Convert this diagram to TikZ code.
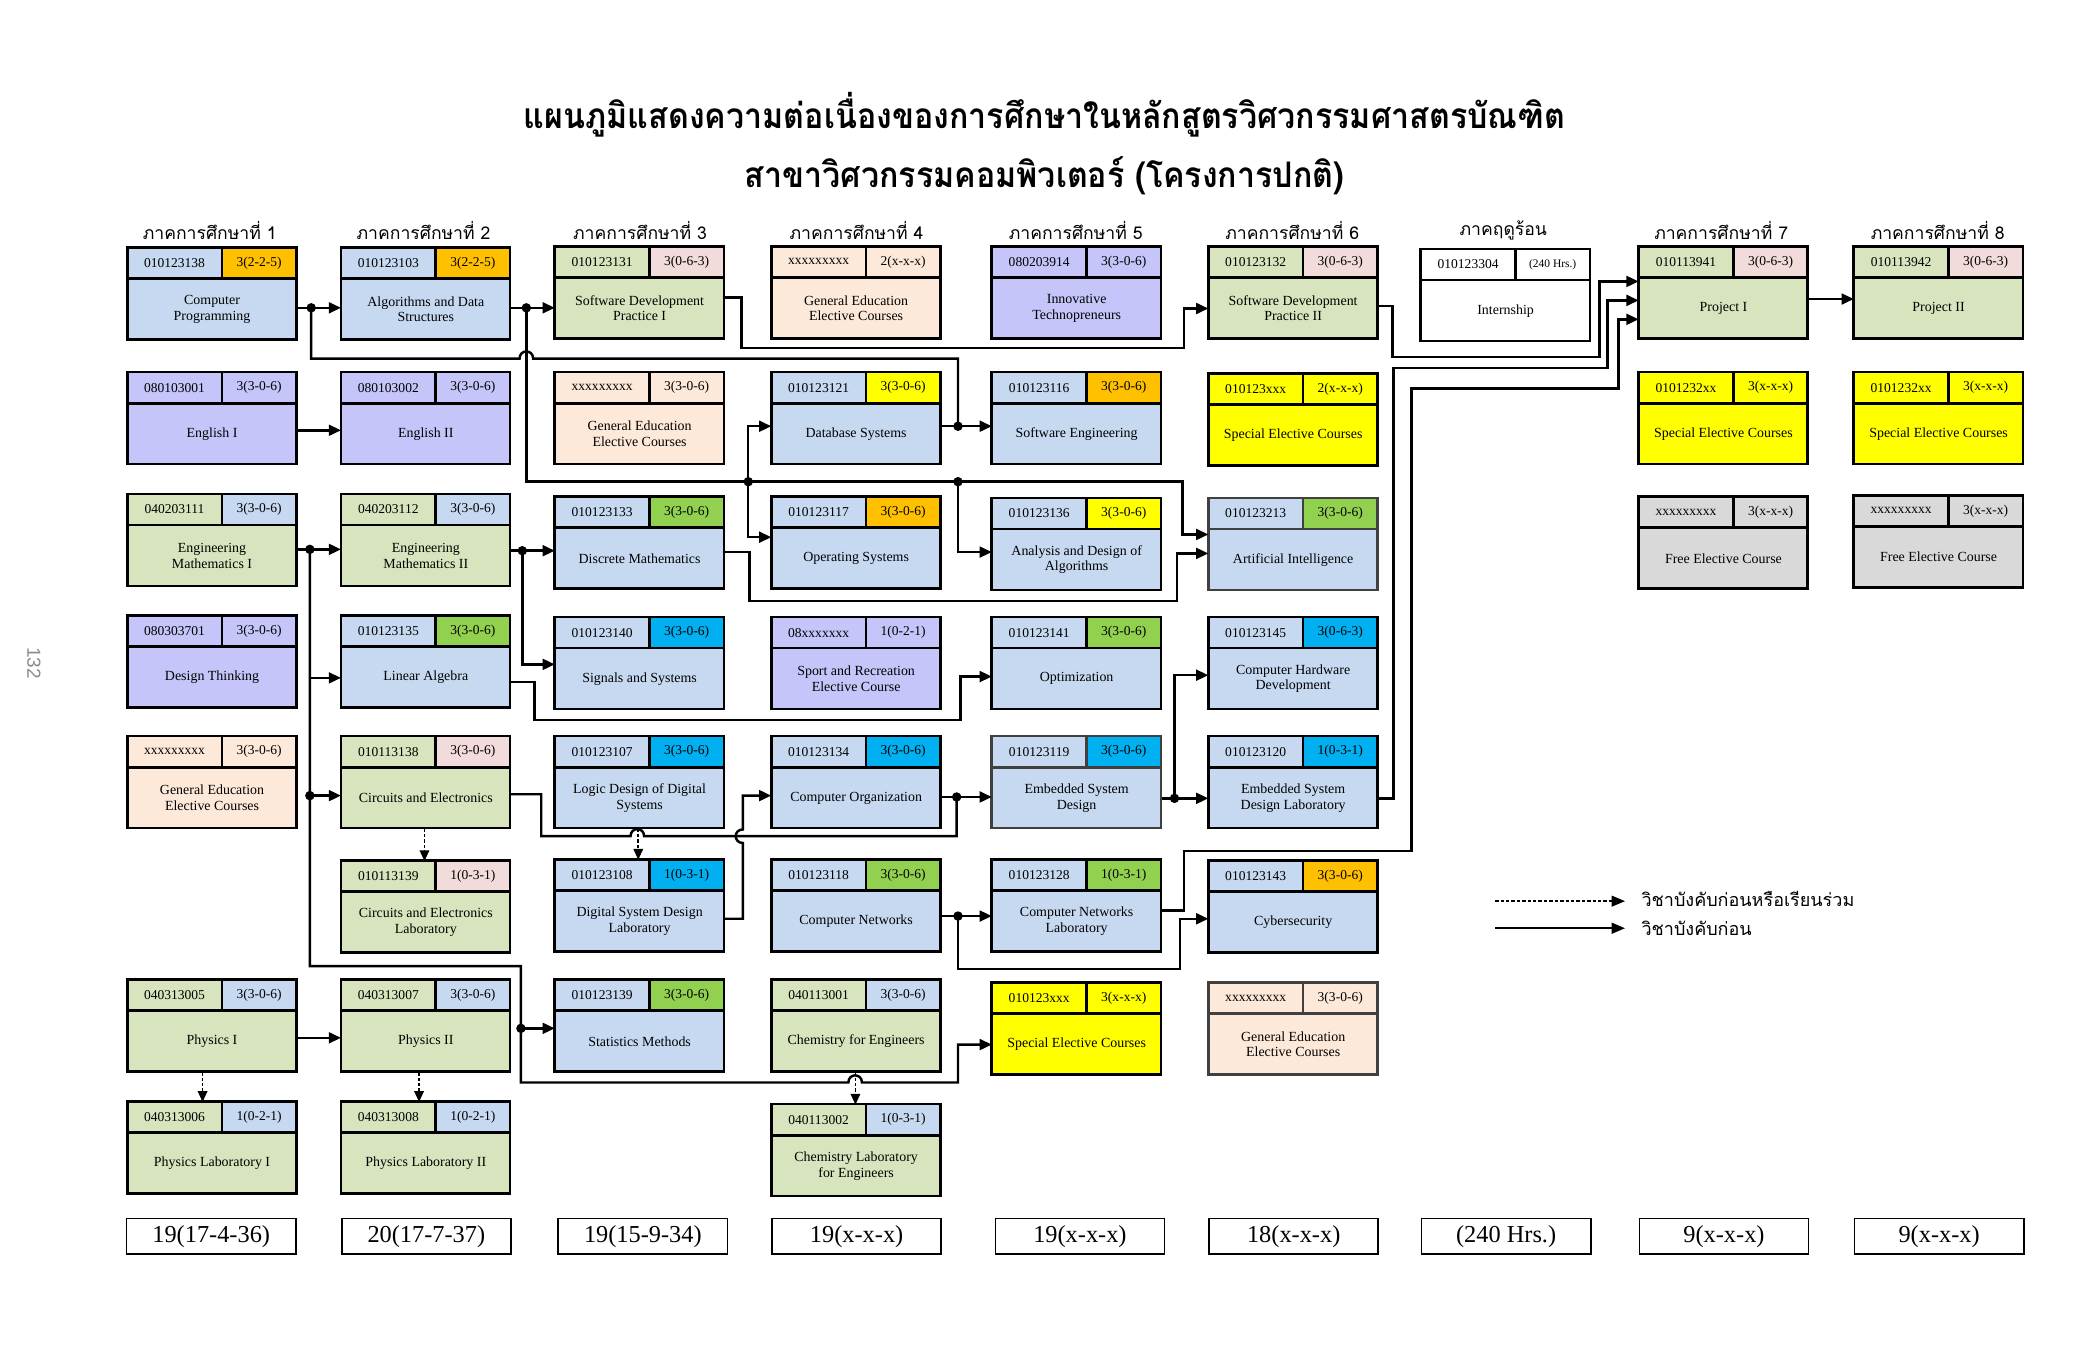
\documentclass[tikz,border=0pt]{standalone}
\usepackage{fontspec}
\setmainfont{Liberation Serif}
\setsansfont{Liberation Sans}
\newfontfamily\thaifont[Script=Thai]{Loma}
\usetikzlibrary{arrows.meta}
\definecolor{cblue}{HTML}{C6D9F1}
\definecolor{cgreen}{HTML}{D7E4BD}
\definecolor{clav}{HTML}{C5C5FA}
\definecolor{cpeach}{HTML}{FDE9D9}
\definecolor{cpink}{HTML}{F2DCDB}
\definecolor{corange}{HTML}{FFC000}
\definecolor{cyellow}{HTML}{FFFF00}
\definecolor{cbgreen}{HTML}{92D050}
\definecolor{ccyan}{HTML}{00B0F0}
\definecolor{cgray}{HTML}{D9D9D9}
\definecolor{dgray}{HTML}{404040}
\tikzset{
  boxline/.style={line width=2pt},
  wire/.style={line width=1.8pt},
  conn/.style={wire, -{Triangle[length=9pt,width=8pt]}},
  dconn/.style={line width=1.3pt, dash pattern=on 2.5pt off 1.5pt, -{Triangle[length=8pt,width=7pt]}},
  jdot/.style={circle, fill=black, inner sep=0pt, minimum size=7pt},
  idtxt/.style={font=\fontsize{10}{11}\selectfont, inner sep=0pt},
  bodytxt/.style={font=\fontsize{10.3}{11.5}\selectfont, align=center, inner sep=0pt,
    minimum width=125pt, minimum height=45pt, anchor=north west},
  credbox/.style={draw, line width=1.2pt, minimum width=125pt, minimum height=26pt,
    font=\fontsize{18}{20}\selectfont, inner sep=0pt, anchor=north west},
  sem/.style={font=\thaifont\fontsize{13}{15}\selectfont, inner sep=0pt},
  legtxt/.style={font=\thaifont\fontsize{13.3}{15}\selectfont, inner sep=0pt, anchor=west},
  ttl/.style={font=\thaifont\bfseries\fontsize{26}{30}\selectfont, inner sep=0pt},
}
% #1 border, #2 name, #3 x, #4 y, #5 id, #6 credit, #7 fill, #8 credit fill, #9 body
\newcommand\course[9]{%
  \fill[#7] (#3,#4) rectangle ++(125,68);
  \fill[#8] (#3+70,#4) rectangle ++(55,23);
  \draw[boxline,draw=#1] (#3,#4) rectangle ++(125,68) (#3,#4+23) -- ++(125,0) (#3+70,#4) -- ++(0,23);
  \node[idtxt] (#2id) at (#3+35,#4+11.5) {#5};
  \node[idtxt] (#2cr) at (#3+97.5,#4+11.5) {#6};
  \node[bodytxt] (#2) at (#3,#4+23) {#9};
}
\begin{document}
\begin{tikzpicture}[x=1pt,y=-1pt]
\useasboundingbox (0,0) rectangle (1552,1000);
\fill[white] (0,0) rectangle (1552,1000);

% titles
\node[ttl] (t1) at (772,85) {\scalebox{0.915}[1]{แผนภูมิแสดงความต่อเนื่องของการศึกษาในหลักสูตรวิศวกรรมศาสตรบัณฑิต}};
\node[ttl] (t2) at (772,130) {\scalebox{0.915}[1]{สาขาวิศวกรรมคอมพิวเตอร์ (โครงการปกติ)}};
\node[rotate=-90, text=black!45, font=\sffamily\fontsize{14}{14}\selectfont] (pg) at (25,490) {132};

% semester headings
\node[sem] (s1h) at (155,170) {ภาคการศึกษาที่ 1};
\node[sem] (s2h) at (313,170) {ภาคการศึกษาที่ 2};
\node[sem] (s3h) at (473,170) {ภาคการศึกษาที่ 3};
\node[sem] (s4h) at (633,170) {ภาคการศึกษาที่ 4};
\node[sem] (s5h) at (795,170) {ภาคการศึกษาที่ 5};
\node[sem] (s6h) at (955,170) {ภาคการศึกษาที่ 6};
\node[sem] (s7h) at (1111,170) {ภาคฤดูร้อน};
\node[sem] (s8h) at (1272,170) {ภาคการศึกษาที่ 7};
\node[sem] (s9h) at (1432,170) {ภาคการศึกษาที่ 8};

% column 1
\course{black}{a1}{94}{183}{010123138}{3(2-2-5)}{cblue}{corange}{Computer\\Programming}
\course{black}{b1}{94}{275}{080103001}{3(3-0-6)}{clav}{clav}{English I}
\course{black}{c1}{94}{365}{040203111}{3(3-0-6)}{cgreen}{cblue}{Engineering\\Mathematics I}
\course{black}{d1}{94}{455}{080303701}{3(3-0-6)}{clav}{clav}{Design Thinking}
\course{black}{e1}{94}{544}{xxxxxxxxx}{3(3-0-6)}{cpeach}{cpeach}{General Education\\Elective Courses}
\course{black}{g1}{94}{724}{040313005}{3(3-0-6)}{cgreen}{cblue}{Physics I}
\course{black}{h1}{94}{814}{040313006}{1(0-2-1)}{cgreen}{cblue}{Physics Laboratory I}
% column 2
\course{black}{a2}{252}{183}{010123103}{3(2-2-5)}{cblue}{corange}{Algorithms and Data\\Structures}
\course{black}{b2}{252}{275}{080103002}{3(3-0-6)}{clav}{clav}{English II}
\course{black}{c2}{252}{365}{040203112}{3(3-0-6)}{cgreen}{cblue}{Engineering\\Mathematics II}
\course{black}{d2}{252}{455}{010123135}{3(3-0-6)}{cblue}{cbgreen}{Linear Algebra}
\course{black}{e2}{252}{544}{010113138}{3(3-0-6)}{cgreen}{cpink}{Circuits and Electronics}
\course{black}{f2}{252}{636}{010113139}{1(0-3-1)}{cgreen}{cpink}{Circuits and Electronics\\Laboratory}
\course{black}{g2}{252}{724}{040313007}{3(3-0-6)}{cgreen}{cblue}{Physics II}
\course{black}{h2}{252}{814}{040313008}{1(0-2-1)}{cgreen}{cblue}{Physics Laboratory II}
% column 3
\course{black}{a3}{410}{182}{010123131}{3(0-6-3)}{cgreen}{cpink}{Software Development\\Practice I}
\course{black}{b3}{410}{275}{xxxxxxxxx}{3(3-0-6)}{cpeach}{cpeach}{General Education\\Elective Courses}
\course{black}{c3}{410}{367}{010123133}{3(3-0-6)}{cblue}{cbgreen}{Discrete Mathematics}
\course{black}{d3}{410}{456}{010123140}{3(3-0-6)}{cblue}{ccyan}{Signals and Systems}
\course{black}{e3}{410}{544}{010123107}{3(3-0-6)}{cblue}{ccyan}{Logic Design of Digital\\Systems}
\course{black}{f3}{410}{635}{010123108}{1(0-3-1)}{cblue}{ccyan}{Digital System Design\\Laboratory}
\course{black}{g3}{410}{724}{010123139}{3(3-0-6)}{cblue}{cbgreen}{Statistics Methods}
% column 4
\course{black}{a4}{570}{182}{xxxxxxxxx}{2(x-x-x)}{cpeach}{cpeach}{General Education\\Elective Courses}
\course{black}{b4}{570}{275}{010123121}{3(3-0-6)}{cblue}{cyellow}{Database Systems}
\course{black}{c4}{570}{367}{010123117}{3(3-0-6)}{cblue}{corange}{Operating Systems}
\course{black}{d4}{570}{456}{08xxxxxxx}{1(0-2-1)}{clav}{clav}{Sport and Recreation\\Elective Course}
\course{black}{e4}{570}{544}{010123134}{3(3-0-6)}{cblue}{ccyan}{Computer Organization}
\course{black}{f4}{570}{635}{010123118}{3(3-0-6)}{cblue}{cbgreen}{Computer Networks}
\course{black}{g4}{570}{724}{040113001}{3(3-0-6)}{cgreen}{cblue}{Chemistry for Engineers}
\course{black}{h4}{570}{816}{040113002}{1(0-3-1)}{cgreen}{cblue}{Chemistry Laboratory\\for Engineers}
% column 5
\course{black}{a5}{733}{182}{080203914}{3(3-0-6)}{clav}{clav}{Innovative\\Technopreneurs}
\course{black}{b5}{733}{275}{010123116}{3(3-0-6)}{cblue}{corange}{Software Engineering}
\course{black}{c5}{733}{368}{010123136}{3(3-0-6)}{cblue}{cyellow}{Analysis and Design of\\Algorithms}
\course{black}{d5}{733}{456}{010123141}{3(3-0-6)}{cblue}{cbgreen}{Optimization}
\course{dgray}{e5}{733}{544}{010123119}{3(3-0-6)}{cblue}{ccyan}{Embedded System\\Design}
\course{black}{f5}{733}{635}{010123128}{1(0-3-1)}{cblue}{cbgreen}{Computer Networks\\Laboratory}
\course{black}{g5}{733}{726}{010123xxx}{3(x-x-x)}{cyellow}{cyellow}{Special Elective Courses}
% column 6
\course{black}{a6}{893}{182}{010123132}{3(0-6-3)}{cgreen}{cpink}{Software Development\\Practice II}
\course{black}{b6}{893}{276}{010123xxx}{2(x-x-x)}{cyellow}{cyellow}{Special Elective Courses}
\course{dgray}{c6}{893}{368}{010123213}{3(3-0-6)}{cblue}{cbgreen}{Artificial Intelligence}
\course{black}{d6}{893}{456}{010123145}{3(0-6-3)}{cblue}{ccyan}{Computer Hardware\\Development}
\course{black}{e6}{893}{544}{010123120}{1(0-3-1)}{cblue}{ccyan}{Embedded System\\Design Laboratory}
\course{black}{f6}{893}{636}{010123143}{3(3-0-6)}{cblue}{corange}{Cybersecurity}
\course{dgray}{g6}{893}{726}{xxxxxxxxx}{3(3-0-6)}{cpeach}{cpeach}{General Education\\Elective Courses}
% summer
\course{black}{a7}{1050}{184}{010123304}{{\fontsize{8.5}{9}\selectfont(240 Hrs.)}}{white}{white}{Internship}
% column 8
\course{black}{a8}{1211}{182}{010113941}{3(0-6-3)}{cgreen}{cpink}{Project I}
\course{black}{b8}{1211}{275}{0101232xx}{3(x-x-x)}{cyellow}{cyellow}{Special Elective Courses}
\course{black}{c8}{1211}{367}{xxxxxxxxx}{3(x-x-x)}{cgray}{cgray}{Free Elective Course}
% column 9
\course{black}{a9}{1370}{182}{010113942}{3(0-6-3)}{cgreen}{cpink}{Project II}
\course{black}{b9}{1370}{275}{0101232xx}{3(x-x-x)}{cyellow}{cyellow}{Special Elective Courses}
\course{black}{c9}{1370}{366}{xxxxxxxxx}{3(x-x-x)}{cgray}{cgray}{Free Elective Course}

% junction dots
\node[jdot] (j1) at (230,227.5) {};
\node[jdot] (j2) at (389,227.5) {};
\node[jdot] (j3) at (708,315) {};
\node[jdot] (j4) at (553,356) {};
\node[jdot] (j5) at (708,356) {};
\node[jdot] (j6) at (229,406) {};
\node[jdot] (j7) at (229,588) {};
\node[jdot] (j8) at (385,760) {};
\node[jdot] (j9) at (386,407) {};
\node[jdot] (j10) at (707,589) {};
\node[jdot] (j11) at (868,590) {};
\node[jdot] (j12) at (708,677) {};

% row A
\draw[conn] (a1.east |- j1) -- (a2.west |- j1);
\draw[conn] (a2.east |- j2) -- (a3.west |- j2);
\draw[wire] (j1.center) -- (230,265) -- (384,265) .. controls (384,258) and (394,258) .. (394,265) -- (708,265) -- (j3.center);
\draw[wire] (j2.center) -- (389,356) -- (j5.center);
\draw[conn] (j5.center) -- (874,356) -- (874,395) -- (c6.west |- 0,395);
\draw[conn] (j4.center) -- (553,315) -- (b4.west |- j3);
\draw[conn] (j4.center) -- (553,397) -- (c4.west |- 0,397);
\draw[conn] (j5.center) -- (708,408) -- (c5.west |- 0,408);
\draw[conn] (b4.east |- j3) -- (b5.west |- j3);
\draw[conn] (a3.east |- 0,220) -- (548,220) -- (548,257) -- (875,257) -- (875,228) -- (a6.west |- 0,228);
% row B
\draw[conn] (b1.east |- 0,318) -- (b2.west |- 0,318);
% row C
\draw[conn] (c1.east |- j6) -- (c2.west |- j6);
\draw[conn] (j6.center) -- (229,714) -- (385,714) -- (385,800) -- (627,800) .. controls (627,793) and (637,793) .. (637,800) -- (708,800) -- (708,772) -- (g5.west |- 0,772);
\draw[conn] (j6 |- 0,501) -- (d2.west |- 0,501);
\draw[conn] (j7.center) -- (e2.west |- j7);
\draw[conn] (j8.center) -- (g3.west |- j8);
\draw[conn] (c2.east |- j9) -- (c3.west |- j9);
\draw[conn] (j9.center) -- (386,491) -- (d3.west |- 0,491);
\draw[conn] (c3.east |- 0,408) -- (554,408) -- (554,444) -- (870,444) -- (870,409) -- (c6.west |- 0,409);
% row D
\draw[conn] (d2.east |- 0,504) -- (395,504) -- (395,532) -- (710,532) -- (710,500) -- (d5.west |- 0,500);
% row E
\draw[conn] (e4.east |- j10) -- (e5.west |- j10);
\draw[wire] (e2.east |- 0,587) -- (400,587) -- (400,618) -- (466,618) .. controls (466,611) and (476,611) .. (476,618) -- (707,618) -- (j10.center);
\draw[conn] (f3.east |- 0,679) -- (549,679) -- (549,623) .. controls (542,623) and (542,613) .. (549,613) -- (549,588) -- (e4.west |- 0,588);
\draw[conn] (e5.east |- j11) -- (e6.west |- j11);
\draw[conn] (j11.center) -- (868,499) -- (d6.west |- 0,499);
% row F
\draw[conn] (f4.east |- j12) -- (f5.west |- j12);
\draw[conn] (j12.center) -- (708,716) -- (872,716) -- (872,679) -- (f6.west |- 0,679);
\draw[conn] (f5.east |- 0,673) -- (875,673) -- (875,629) -- (1043,629) -- (1043,287) -- (1196,287) -- (1196,236) -- (a8.west |- 0,236);
\draw[conn] (e6.east |- 0,590) -- (1030,590) -- (1030,272) -- (1188,272) -- (1188,222) -- (a8.west |- 0,222);
\draw[conn] (a6.east |- 0,226) -- (1029,226) -- (1029,264) -- (1182,264) -- (1182,208) -- (a8.west |- 0,208);
\draw[conn] (a8.east |- 0,221) -- (a9.west |- 0,221);
% row G
\draw[conn] (g1.east |- 0,767) -- (g2.west |- 0,767);
% corequisites (dashed)
\draw[dconn] ([xshift=-7pt]g1.south) -- ++(0,22);
\draw[dconn] ([xshift=-5pt]g2.south) -- ++(0,22);
\draw[dconn] ([xshift=-0.5pt]g4.south) -- ++(0,24);
\draw[dconn] ([xshift=-1pt]e2.south) -- ++(0,24);
\draw[dconn] ([xshift=-1pt]e3.south) -- ++(0,23);

% legend
\coordinate (l1a) at (1105,666);
\coordinate (l1b) at (1201,666);
\coordinate (l2a) at (1105,686);
\coordinate (l2b) at (1201,686);
\draw[dconn, -{Triangle[length=10pt,width=8pt]}] (l1a) -- (l1b);
\draw[conn, line width=1.6pt, -{Triangle[length=10pt,width=8pt]}] (l2a) -- (l2b);
\node[legtxt] (lt1) at (1213,664) {วิชาบังคับก่อนหรือเรียนร่วม};
\node[legtxt] (lt2) at (1213,686) {วิชาบังคับก่อน};

% credit totals
\node[credbox] (cr1) at (93,900) {19(17-4-36)};
\node[credbox] (cr2) at (252,900) {20(17-7-37)};
\node[credbox] (cr3) at (412,900) {19(15-9-34)};
\node[credbox] (cr4) at (570,900) {19(x-x-x)};
\node[credbox] (cr5) at (735,900) {19(x-x-x)};
\node[credbox] (cr6) at (893,900) {18(x-x-x)};
\node[credbox] (cr7) at (1050,900) {(240 Hrs.)};
\node[credbox] (cr8) at (1211,900) {9(x-x-x)};
\node[credbox] (cr9) at (1370,900) {9(x-x-x)};
\end{tikzpicture}
\end{document}
